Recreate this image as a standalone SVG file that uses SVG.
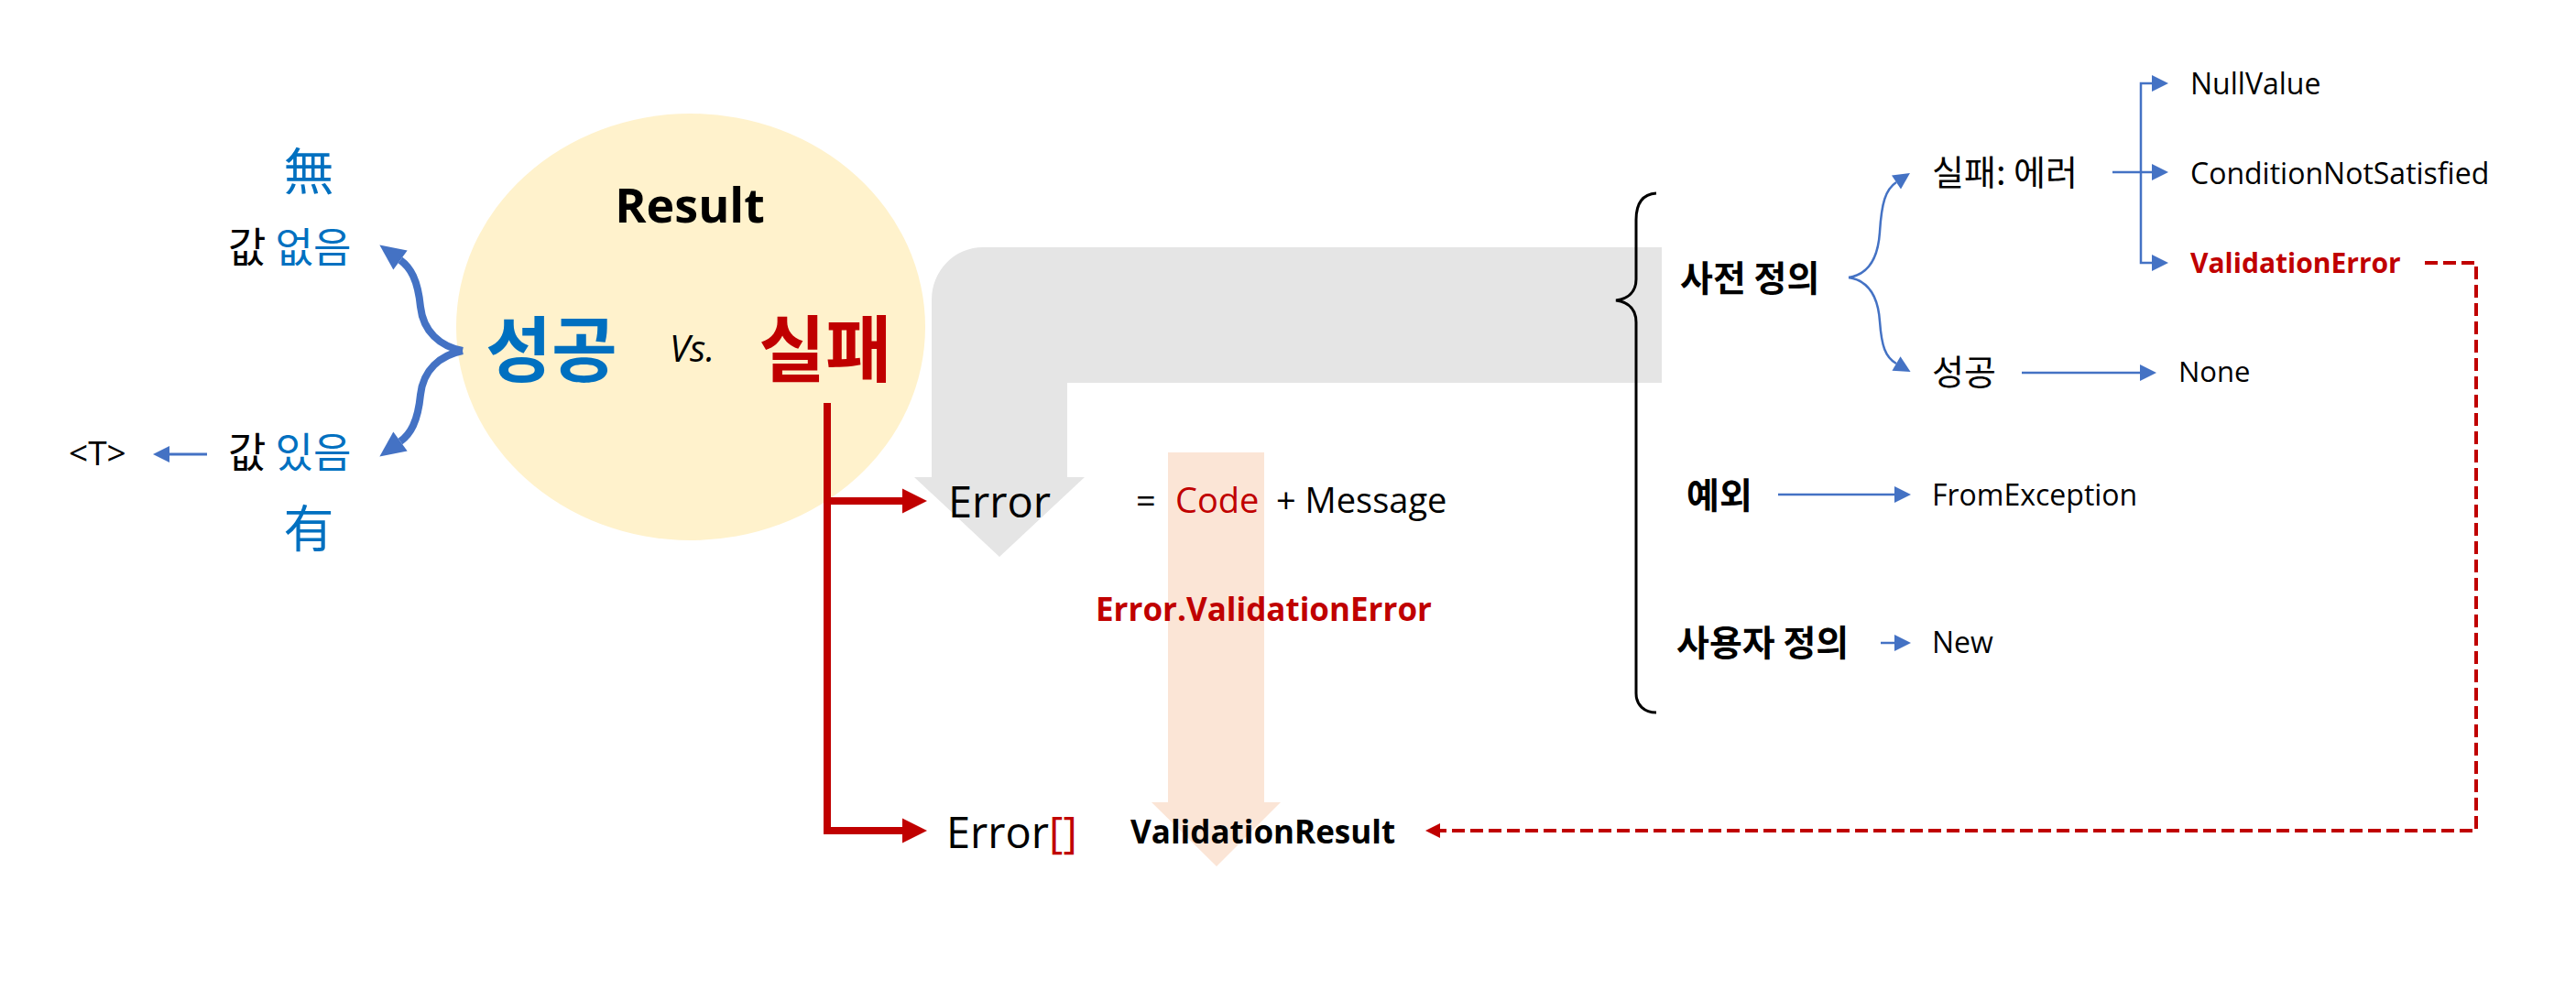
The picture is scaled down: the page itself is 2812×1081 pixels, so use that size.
<svg xmlns="http://www.w3.org/2000/svg" width="2812" height="1081" viewBox="0 0 2812 1081">
<style>
.t{font-family:"Open Sans","Noto Sans CJK KR",sans-serif;fill:#000}
.k{font-family:"Noto Sans CJK KR","Open Sans",sans-serif;fill:#000}
.b{font-weight:700}
.blue{fill:#0070C0}
.red{fill:#C00000}
.bl{fill:none;stroke:#4472C4}
.rd{fill:none;stroke:#C00000}
</style>
<defs>
<marker id="hBlueBig" markerUnits="userSpaceOnUse" markerWidth="28" markerHeight="26" refX="0" refY="13" orient="auto" overflow="visible"><path d="M0,0 L28,13 L0,26 z" fill="#4472C4"/></marker>
<marker id="hBlue" markerUnits="userSpaceOnUse" markerWidth="18" markerHeight="18" refX="0" refY="9" orient="auto" overflow="visible"><path d="M0,0 L18,9 L0,18 z" fill="#4472C4"/></marker>
<marker id="hRed" markerUnits="userSpaceOnUse" markerWidth="27" markerHeight="27" refX="0" refY="13.5" orient="auto" overflow="visible"><path d="M0,0 L27,13.5 L0,27 z" fill="#C00000"/></marker>
<marker id="hRedS" markerUnits="userSpaceOnUse" markerWidth="16" markerHeight="16" refX="0" refY="8" orient="auto" overflow="visible"><path d="M0,0 L16,8 L0,16 z" fill="#C00000"/></marker>
</defs>
<rect width="2812" height="1081" fill="#fff"/>

<g id="result-circle">
<ellipse cx="754" cy="357" rx="256" ry="233" fill="#FFF2CC"/>
<text class="t b" x="753" y="243" font-size="52" text-anchor="middle">Result</text>
</g>

<g id="gray-bent-arrow">
<path d="M1073,270 H1814 V418 H1165 V521 H1184 L1091,608 L998,521 H1017 V327 A56,57 0 0 1 1073,270 Z" fill="#E5E5E5"/>
</g>

<g id="orange-arrow">
<path d="M1275,494 H1380 V876 H1398 L1328,946 L1257,876 H1275 Z" fill="#FBE5D6"/>
</g>

<g id="connectors">
<path class="bl" stroke-width="8" d="M505,383 C480,378 462,362 459,335 C456,305 448,292 437,284" marker-end="url(#hBlueBig)"/>
<path class="bl" stroke-width="8" d="M505,383 C480,388 462,404 459,431 C456,461 448,474 437,482" marker-end="url(#hBlueBig)"/>
<path class="bl" stroke-width="3" d="M226,496 H185" marker-end="url(#hBlue)"/>
<path class="rd" stroke-width="8" d="M903,440 V907 H985" marker-end="url(#hRed)"/>
<path class="rd" stroke-width="8" d="M903,547 H985" marker-end="url(#hRed)"/>
<path class="rd" stroke-width="4" stroke-dasharray="14 6" d="M2647,287 H2703 V907 H1572" marker-end="url(#hRedS)"/>
<path fill="none" stroke="#000" stroke-width="3" d="M1808,211 C1793,212 1786,222 1786,240 V305 C1786,318 1778,326 1764,328 C1778,330 1786,338 1786,352 V757 C1786,770 1795,778 1808,778"/>
<path class="bl" stroke-width="2.5" d="M2018,303 C2038,300 2050,285 2052,253 C2054,222 2058,207 2070,199" marker-end="url(#hBlue)"/>
<path class="bl" stroke-width="2.5" d="M2018,303 C2038,306 2050,321 2052,351 C2054,378 2058,390 2070,397" marker-end="url(#hBlue)"/>
<path class="bl" stroke-width="2.5" d="M2306,188 H2349" marker-end="url(#hBlue)"/>
<path class="bl" stroke-width="2.5" d="M2337,189 V91 H2349" marker-end="url(#hBlue)"/>
<path class="bl" stroke-width="2.5" d="M2337,189 V287 H2349" marker-end="url(#hBlue)"/>
<path class="bl" stroke-width="2.5" d="M2207,407 H2336" marker-end="url(#hBlue)"/>
<path class="bl" stroke-width="2.5" d="M1941,540 H2068" marker-end="url(#hBlue)"/>
<path class="bl" stroke-width="2.5" d="M2053,702 H2068" marker-end="url(#hBlue)"/>
</g>

<g id="none-value">
<text class="k blue" x="337" y="207" font-size="55" text-anchor="middle">無</text>
<text class="k" x="249" y="287" font-size="45">값 <tspan class="blue">없음</tspan></text>
</g>
<g id="some-value">
<text class="k" x="249" y="511" font-size="45">값 <tspan class="blue">있음</tspan></text>
<text class="k blue" x="337" y="597" font-size="55" text-anchor="middle">有</text>
</g>
<g id="type-t">
<text class="t" x="75" y="508" font-size="37">&lt;T&gt;</text>
</g>

<g id="success-fail">
<text class="k b blue" x="602" y="411" font-size="78" text-anchor="middle">성공</text>
<text class="t" x="731" y="395" font-size="40" font-style="italic">Vs.</text>
<text class="k b red" x="901" y="411" font-size="79" text-anchor="middle">실패</text>
</g>

<g id="error">
<text class="t" x="1035" y="565" font-size="47">Error</text>
<text class="t" x="1240" y="560" font-size="38">=</text>
<text class="t red" x="1283" y="560" font-size="38">Code</text>
<text class="t" x="1393" y="560" font-size="38">+ Message</text>
</g>
<g id="error-validation">
<text class="t b red" x="1196" y="678" font-size="35">Error.ValidationError</text>
</g>
<g id="error-array">
<text class="t" x="1033" y="926" font-size="47">Error<tspan class="red">[]</tspan></text>
</g>
<g id="validation-result">
<text class="t b" x="1234" y="921" font-size="35">ValidationResult</text>
</g>

<g id="predefined">
<text class="k b" x="1834" y="318" font-size="39">사전 정의</text>
</g>
<g id="fail-error">
<text class="k" x="2109" y="202" font-size="38">실패: 에러</text>
</g>
<g id="success-right">
<text class="k" x="2109" y="420" font-size="38">성공</text>
</g>
<g id="null-value"><text class="t" x="2391" y="103" font-size="32">NullValue</text></g>
<g id="condition-not-satisfied"><text class="t" x="2391" y="201" font-size="32">ConditionNotSatisfied</text></g>
<g id="validation-error"><text class="t b red" x="2391" y="298" font-size="30">ValidationError</text></g>
<g id="none"><text class="t" x="2378" y="417" font-size="31">None</text></g>
<g id="exception"><text class="k b" x="1841" y="555" font-size="39">예외</text></g>
<g id="from-exception"><text class="t" x="2109" y="552" font-size="32">FromException</text></g>
<g id="user-defined"><text class="k b" x="1830" y="716" font-size="39">사용자 정의</text></g>
<g id="new"><text class="t" x="2109" y="713" font-size="32">New</text></g>
</svg>
